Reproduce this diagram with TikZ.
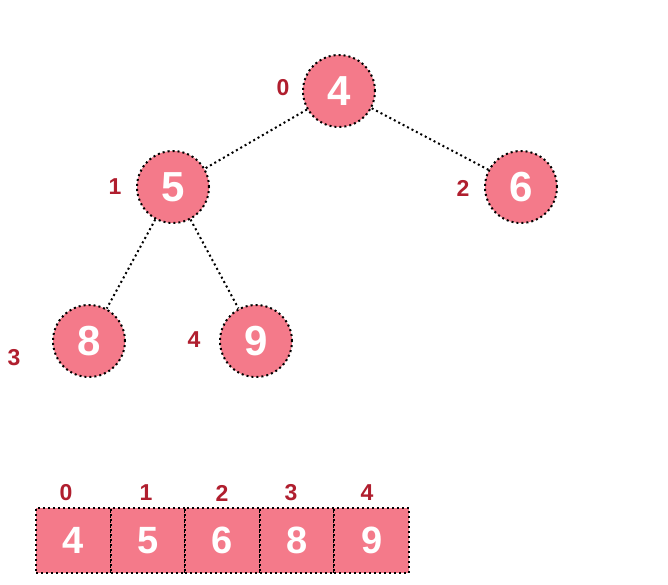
\documentclass[tikz,border=0pt]{standalone}
\usepackage{fontspec}
\setmainfont{Liberation Sans}
\definecolor{nodefill}{HTML}{F47A8A}
\definecolor{labred}{HTML}{B01E2E}
\begin{document}
\begin{tikzpicture}[x=1pt,y=-1pt,
  dotline/.style={line width=2pt, dash pattern=on 2pt off 3pt},
  heapnode/.style={circle, fill=nodefill, draw=black, dotline, minimum size=72pt, inner sep=0pt,
    text=white, font=\bfseries\fontsize{42}{42}\selectfont},
  cell/.style={rectangle, fill=nodefill, draw=black, dotline, minimum width=74.6pt, minimum height=65pt,
    inner sep=0pt, text=white, font=\bfseries\fontsize{38}{38}\selectfont},
  idx/.style={text=labred, font=\bfseries\fontsize{23}{23}\selectfont, inner sep=0pt}
]
\useasboundingbox[fill=white] (0,0) rectangle (668,584);
% tree nodes
\node[heapnode] (n0) at (339,91) {4};
\node[heapnode] (n1) at (173,187) {5};
\node[heapnode] (n2) at (521,187) {6};
\node[heapnode] (n3) at (89,341) {8};
\node[heapnode] (n4) at (256,341) {9};
% edges
\draw[dotline] (n0) -- (n1);
\draw[dotline] (n0) -- (n2);
\draw[dotline] (n1) -- (n3);
\draw[dotline] (n1) -- (n4);
% index labels of tree
\node[idx] (l0) at (283,88) {0};
\node[idx] (l1) at (115,187) {1};
\node[idx] (l2) at (463,188) {2};
\node[idx] (l3) at (14,358) {3};
\node[idx] (l4) at (194,340) {4};
% array
\node[cell] (a0) at (73.3,540.5) {4};
\node[cell] (a1) at (147.9,540.5) {5};
\node[cell] (a2) at (222.5,540.5) {6};
\node[cell] (a3) at (297.1,540.5) {8};
\node[cell] (a4) at (371.7,540.5) {9};
\node[idx] (i0) at (66,493) {0};
\node[idx] (i1) at (146,493) {1};
\node[idx] (i2) at (222,493) {2};
\node[idx] (i3) at (291,493) {3};
\node[idx] (i4) at (367,493) {4};
\end{tikzpicture}
\end{document}
